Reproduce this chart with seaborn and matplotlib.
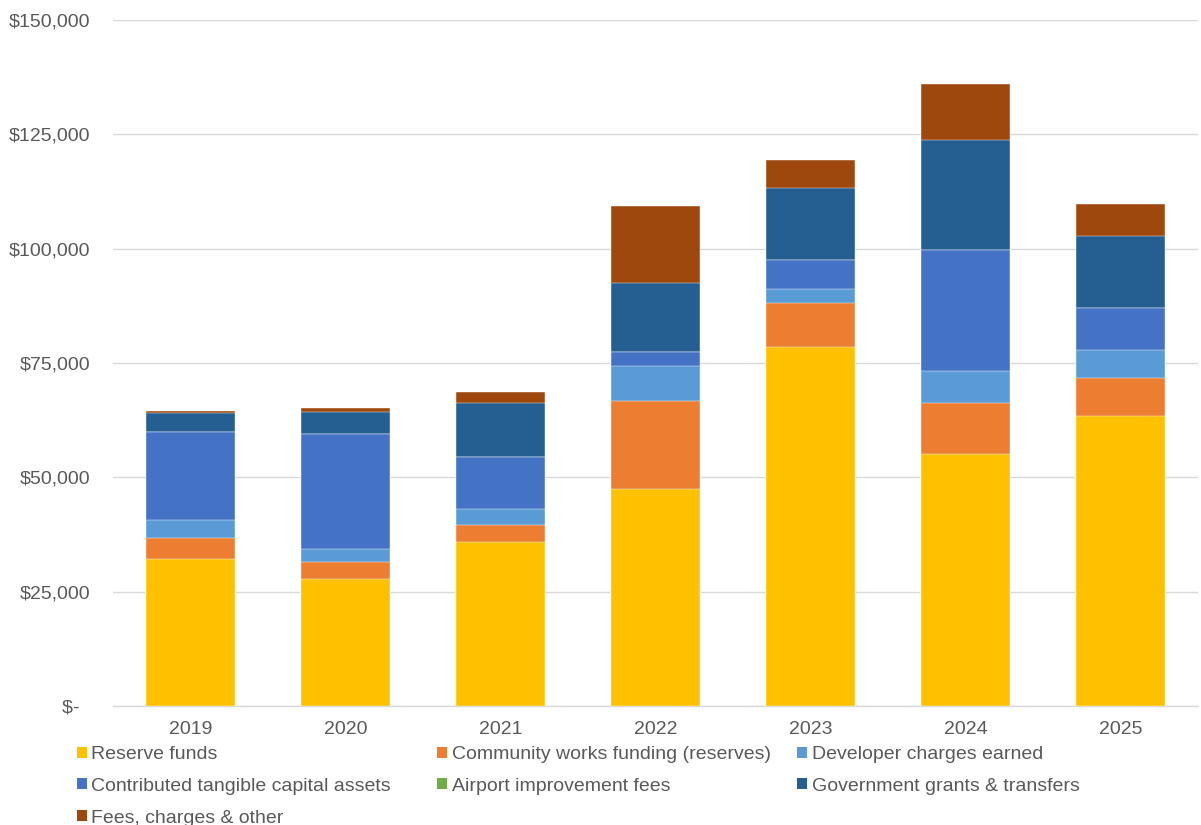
import matplotlib
matplotlib.use("Agg")
import matplotlib.pyplot as plt
from matplotlib.patches import Patch
from matplotlib.ticker import FuncFormatter
import numpy as np
import pandas as pd
import seaborn as sns

# Capital funding sources by year
years = ["2019", "2020", "2021", "2022", "2023", "2024", "2025"]
reserve_funds = [32100, 27800, 35900, 47450, 78600, 55100, 63400]
community_works = [4600, 3700, 3600, 19250, 9450, 11100, 8400]
developer_charges = [3950, 2800, 3550, 7650, 3150, 7050, 6050]
contributed_assets = [19250, 25150, 11300, 3050, 6350, 26450, 9100]
airport_fees = [0, 0, 0, 0, 0, 0, 0]
government_grants = [4250, 4900, 11800, 15000, 15800, 24000, 15750]
fees_charges_other = [350, 900, 2500, 16900, 6050, 12400, 7000]

series_names = [
    "Reserve funds",
    "Community works funding (reserves)",
    "Developer charges earned",
    "Contributed tangible capital assets",
    "Airport improvement fees",
    "Government grants & transfers",
    "Fees, charges & other",
]
series_values = [
    reserve_funds, community_works, developer_charges, contributed_assets,
    airport_fees, government_grants, fees_charges_other,
]
colors = ["#FFC000", "#ED7D31", "#5B9BD5", "#4472C4", "#70AD47", "#255E91", "#9E480E"]

df = pd.DataFrame(dict(zip(series_names, series_values)), index=years)
cum = df.cumsum(axis=1)

sns.set_theme(style="white")
plt.rcParams["font.family"] = ["Liberation Sans", "DejaVu Sans"]
text_color = "#595959"
grid_color = "#D9D9D9"

fig = plt.figure(figsize=(12.01, 8.25), dpi=100)
ax = fig.add_axes([0.094, 0.1442, 0.9035, 0.8316])

# Stacked bars: draw cumulative totals from the top layer down
for name, color in zip(reversed(series_names), reversed(colors)):
    sns.barplot(
        x=years, y=cum[name].values, color=color, saturation=1, width=0.57,
        edgecolor="#FFFFFF", linewidth=0.3, ax=ax, zorder=3,
    )

ax.set_xlim(-0.5, len(years) - 0.5)
ax.set_ylim(0, 150000)
ax.set_yticks(np.arange(0, 150001, 25000))
ax.yaxis.set_major_formatter(
    FuncFormatter(lambda v, p: "$-  " if v == 0 else f"${v:,.0f}")
)
ax.grid(axis="y", color=grid_color, linewidth=1, zorder=0)
ax.set_axisbelow(True)
for side in ["top", "right", "left"]:
    ax.spines[side].set_visible(False)
ax.spines["bottom"].set_color(grid_color)
ax.spines["bottom"].set_linewidth(1)
ax.tick_params(axis="both", length=0, labelsize=14, labelcolor=text_color)
ax.tick_params(axis="y", pad=16)
ax.tick_params(axis="x", pad=11)
ax.set_xlabel("")
ax.set_ylabel("")

# Legend laid out in rows of three, like a spreadsheet chart legend
handles = [Patch(facecolor=c, edgecolor="none") for c in colors]
columns = [[0, 3, 6], [1, 4], [2, 5]]
col_x = [0.064, 0.364, 0.664]
for idxs, x in zip(columns, col_x):
    fig.legend(
        [handles[i] for i in idxs], [series_names[i] for i in idxs],
        loc="upper left", bbox_to_anchor=(x, 1 - 746 / 825),
        frameon=False, borderpad=0, borderaxespad=0,
        handlelength=0.5, handleheight=0.5, handletextpad=0.25,
        labelspacing=0.76, fontsize=14, labelcolor=text_color,
    )

fig.savefig("out.png", dpi=100, facecolor="white")
